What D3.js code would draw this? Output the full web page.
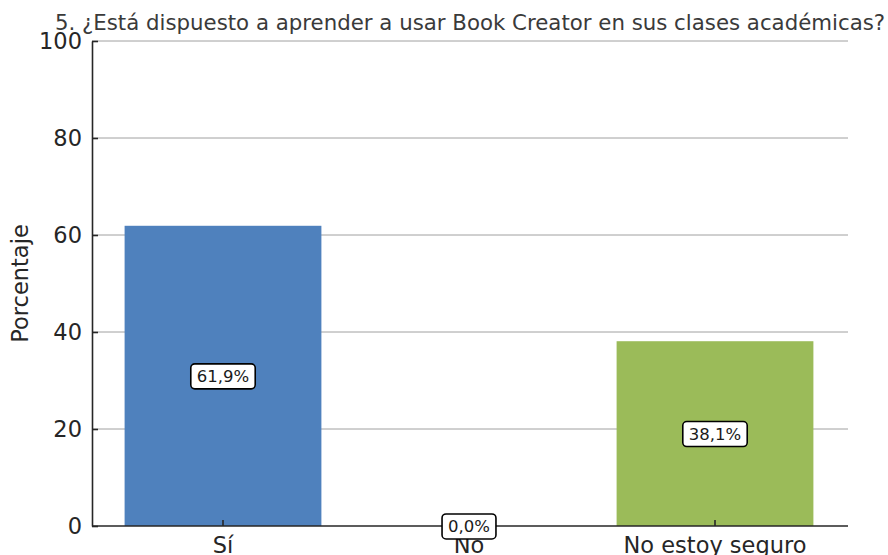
<!DOCTYPE html>
<html lang="es">
<head>
<meta charset="UTF-8" />
<title>Book Creator</title>
<script src="https://cdn.jsdelivr.net/npm/d3@7"></script>
<style>
  body { margin: 0; background: #fff; }
  text { font-family: "DejaVu Sans", sans-serif; }
</style>
</head>
<body>
<svg id="chart" width="888" height="555"></svg>
<script>
  // data
  const categories = ["Sí", "No", "No estoy seguro"];
  const values = [61.9, 0.0, 38.1];
  const labels = ["61,9%", "0,0%", "38,1%"];
  const colors = ["#4f81bd", "#c0504d", "#9bbb59"];
  const yTicks = [0, 20, 40, 60, 80, 100];

  const svg = d3.select("#chart");
  const mLeft = 92, mRight = 848, mTop = 41, mBottom = 526;

  let x = d3.scaleBand()
    .domain(categories)
    .range([100, 838])
    .paddingInner(0.2)
    .paddingOuter(0.1);
  let y = d3.scaleLinear().domain([0, 100]).range([mBottom, mTop]);

  // grid
  svg.append("g")
    .selectAll("line")
    .data(yTicks.filter(d => d > 0))
    .join("line")
    .attr("x1", mLeft).attr("x2", mRight)
    .attr("y1", d => y(d)).attr("y2", d => y(d))
    .attr("stroke", "#a0a0a0")
    .attr("stroke-width", 1);

  // bars
  svg.append("g")
    .selectAll("rect")
    .data(categories)
    .join("rect")
    .attr("x", d => x(d))
    .attr("width", x.bandwidth())
    .attr("y", (d, i) => y(values[i]))
    .attr("height", (d, i) => mBottom - y(values[i]))
    .attr("fill", (d, i) => colors[i]);

  // y axis
  let yAxis = svg.append("g")
    .attr("transform", `translate(${mLeft},0)`)
    .call(d3.axisLeft(y).tickValues(yTicks).tickSizeInner(-6).tickSizeOuter(0).tickPadding(10));
  yAxis.select(".domain").attr("stroke", "#262626").attr("stroke-width", 1.6);
  yAxis.selectAll(".tick line").attr("stroke", "#262626").attr("stroke-width", 1.6);
  yAxis.selectAll(".tick text")
    .attr("font-size", 22.5).attr("fill", "#262626")
    .attr("font-family", "DejaVu Sans, sans-serif");

  // x axis
  let xAxis = svg.append("g")
    .attr("transform", `translate(0,${mBottom})`)
    .call(d3.axisBottom(x).tickSizeInner(-6).tickSizeOuter(0).tickPadding(11));
  xAxis.select(".domain").attr("d", `M${mLeft},0H${mRight}`)
    .attr("stroke", "#262626").attr("stroke-width", 1.6);
  xAxis.selectAll(".tick line").attr("stroke", "#262626").attr("stroke-width", 1.6);
  xAxis.selectAll(".tick text")
    .attr("font-size", 22.5).attr("fill", "#262626")
    .attr("font-family", "DejaVu Sans, sans-serif");

  // value labels
  let lab = svg.append("g")
    .selectAll("g")
    .data(categories)
    .join("g")
    .attr("transform", (d, i) => `translate(${x(d) + x.bandwidth() / 2},${y(values[i] / 2)})`);
  lab.append("text")
    .attr("text-anchor", "middle")
    .attr("dy", "0.36em")
    .attr("font-size", 16.5)
    .attr("fill", "#1a1a1a")
    .text((d, i) => labels[i]);
  lab.each(function () {
    let g = d3.select(this);
    let b = g.select("text").node().getBBox();
    g.insert("rect", "text")
      .attr("x", b.x - 6).attr("y", b.y - 3)
      .attr("width", b.width + 12).attr("height", b.height + 6)
      .attr("rx", 4)
      .attr("fill", "#fff")
      .attr("stroke", "#000")
      .attr("stroke-width", 1.6);
  });

  // title
  svg.append("text")
    .attr("x", (mLeft + mRight) / 2)
    .attr("y", 30)
    .attr("text-anchor", "middle")
    .attr("font-size", 21.3)
    .attr("fill", "#3a3a3a")
    .text("5. ¿Está dispuesto a aprender a usar Book Creator en sus clases académicas?");

  // y label
  svg.append("text")
    .attr("transform", `translate(28,${(mTop + mBottom) / 2}) rotate(-90)`)
    .attr("text-anchor", "middle")
    .attr("font-size", 22.5)
    .attr("fill", "#262626")
    .text("Porcentaje");
</script>
</body>
</html>
